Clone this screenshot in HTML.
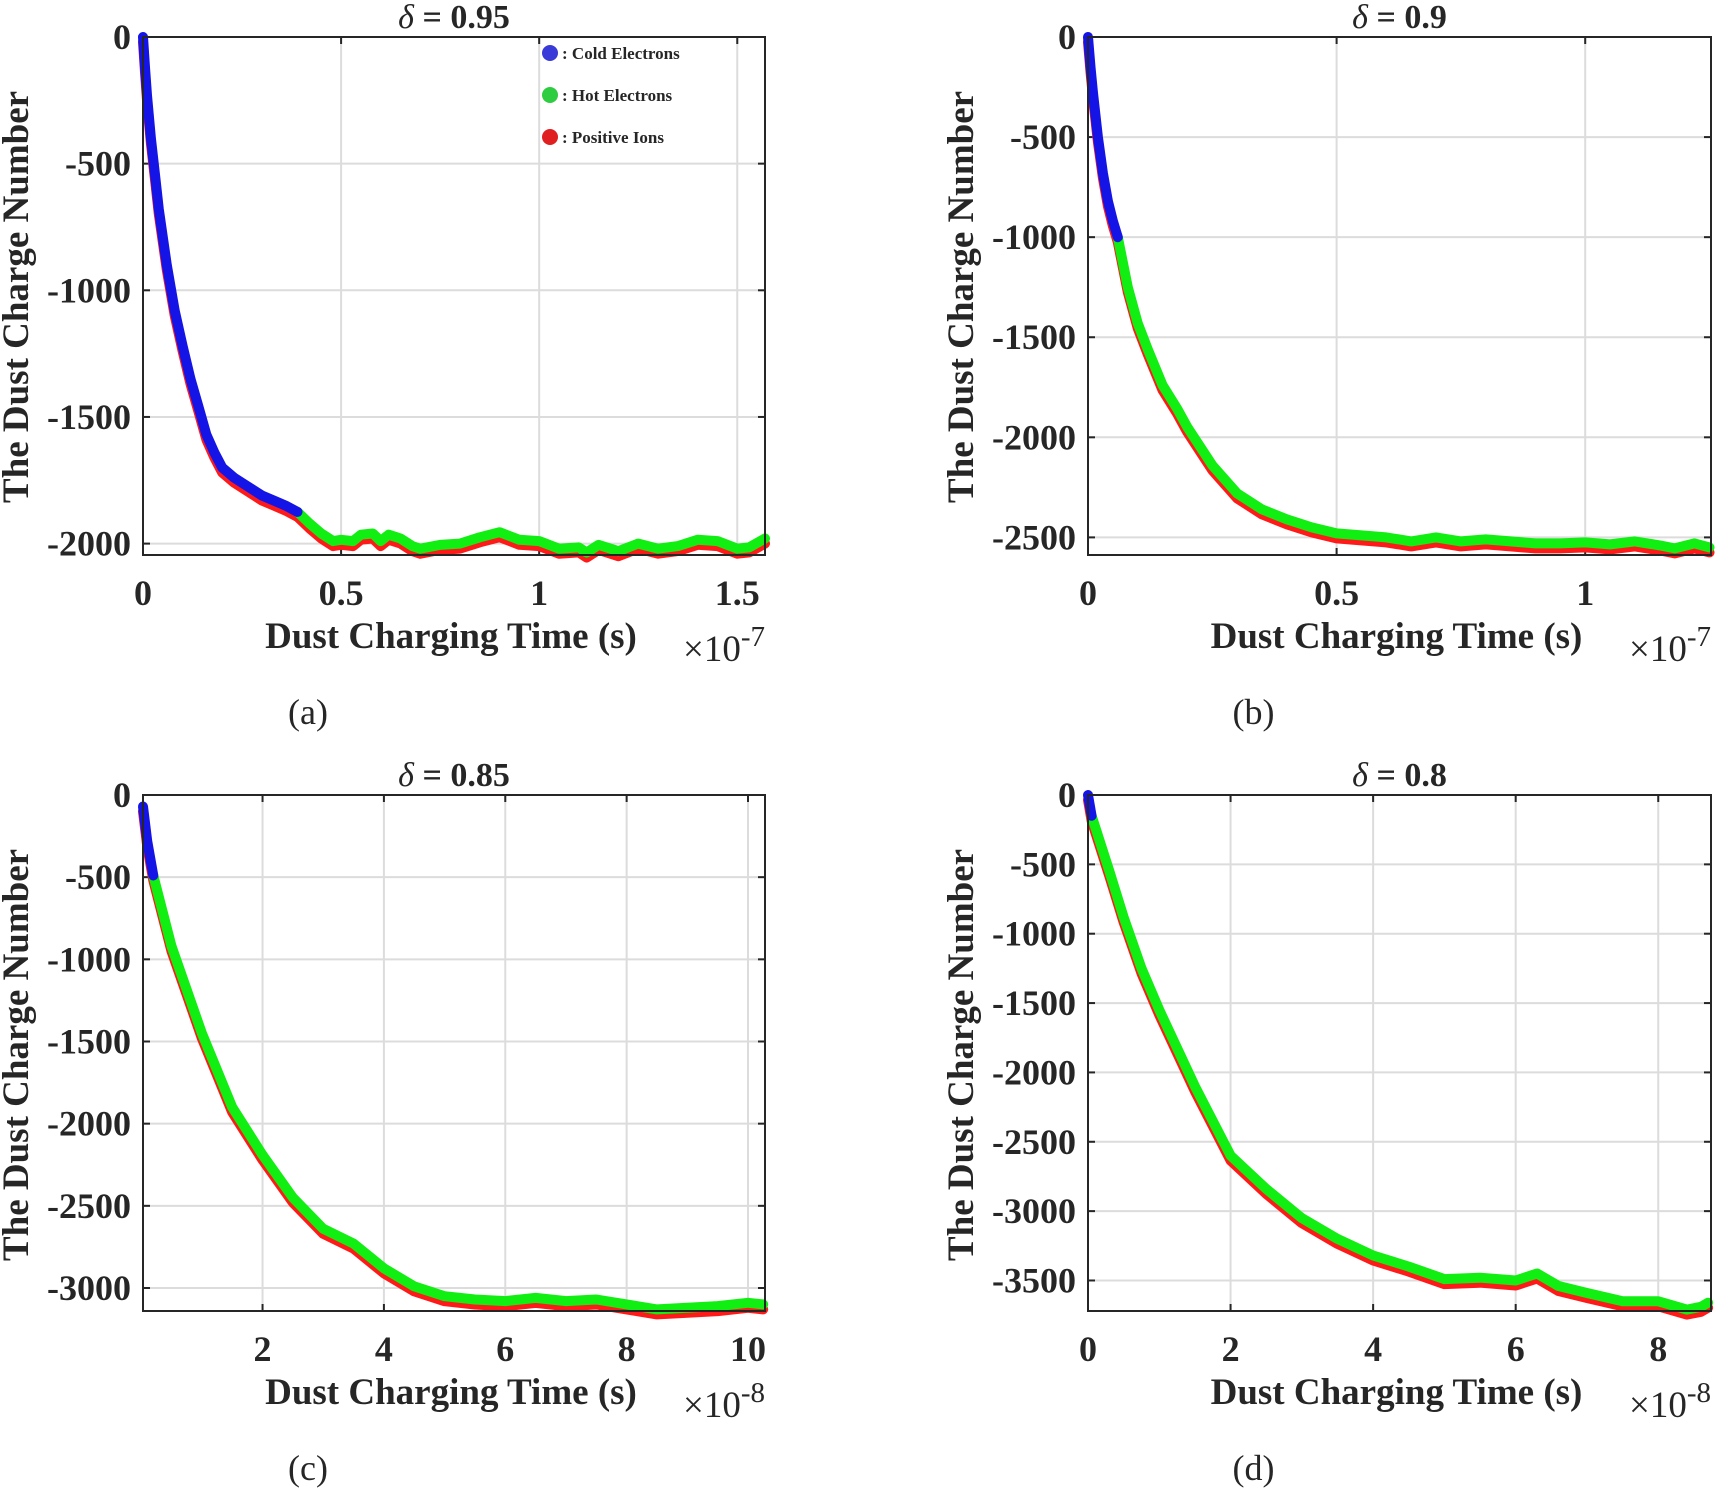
<!DOCTYPE html>
<html><head><meta charset="utf-8">
<style>
html,body{margin:0;padding:0;background:#fff;}
svg{display:block;}
text{font-family:"Liberation Serif",serif;fill:#262626;}
</style></head>
<body>
<svg id="fig" width="1716" height="1490" viewBox="0 0 1716 1490" xmlns="http://www.w3.org/2000/svg"></svg>
<script>
// ---- Panel (a) delta=0.95 (x in 1e-7 s)
const aColdX=[0,0.005,0.01,0.02,0.03,0.04,0.06,0.08,0.1,0.12,0.14,0.16,0.18,0.2,0.23,0.26,0.3,0.33,0.36,0.39];
const aColdY=[0,-120,-230,-400,-540,-680,-900,-1080,-1220,-1350,-1460,-1570,-1640,-1700,-1740,-1770,-1810,-1830,-1850,-1875];
const aHotX=[0.39,0.42,0.45,0.48,0.5,0.53,0.55,0.58,0.6,0.62,0.65,0.68,0.7,0.75,0.8,0.85,0.9,0.95,1.0,1.05,1.1,1.12,1.15,1.2,1.25,1.3,1.35,1.4,1.45,1.5,1.53,1.57];
const aHotY=[-1875,-1920,-1960,-1990,-1985,-1990,-1965,-1960,-1990,-1965,-1980,-2010,-2020,-2005,-2000,-1975,-1955,-1985,-1990,-2020,-2015,-2035,-2005,-2030,-2000,-2020,-2010,-1985,-1990,-2020,-2015,-1980];
// ---- Panel (b) delta=0.9
const bColdX=[0,0.005,0.01,0.02,0.03,0.04,0.05,0.06];
const bColdY=[0,-150,-280,-500,-680,-820,-920,-1000];
const bHotX=[0.06,0.08,0.1,0.12,0.15,0.18,0.2,0.25,0.3,0.35,0.4,0.45,0.5,0.55,0.6,0.65,0.7,0.75,0.8,0.85,0.9,0.95,1.0,1.05,1.1,1.15,1.18,1.22,1.25];
const bHotY=[-1000,-1250,-1430,-1560,-1740,-1860,-1950,-2140,-2280,-2360,-2410,-2450,-2480,-2490,-2500,-2520,-2500,-2520,-2510,-2520,-2530,-2530,-2525,-2535,-2520,-2540,-2555,-2530,-2550];
// ---- Panel (c) delta=0.85 (x in 1e-8 s)
const cColdX=[0.03,0.1,0.2];
const cColdY=[-70,-280,-490];
const cHotX=[0.2,0.5,1,1.5,2,2.5,3,3.5,4,4.5,5,5.5,6,6.5,7,7.5,8,8.5,9,9.5,10,10.25];
const cHotY=[-490,-920,-1450,-1900,-2190,-2450,-2640,-2730,-2880,-2990,-3050,-3070,-3080,-3060,-3080,-3070,-3100,-3130,-3120,-3110,-3090,-3100];
// ---- Panel (d) delta=0.8
const dColdX=[0,0.05];
const dColdY=[0,-150];
const dHotX=[0.05,0.3,0.5,0.75,1,1.5,2,2.5,3,3.5,4,4.5,5,5.5,6,6.3,6.6,7,7.5,8,8.4,8.6,8.7];
const dHotY=[-150,-550,-880,-1250,-1550,-2100,-2600,-2840,-3050,-3200,-3320,-3400,-3490,-3480,-3500,-3450,-3540,-3590,-3650,-3650,-3710,-3690,-3660];

const aXTicks=[0,0.5,1,1.5], aXLabels=["0","0.5","1","1.5"];
const aYTicks=[0,-500,-1000,-1500,-2000];
const bXTicks=[0,0.5,1], bXLabels=["0","0.5","1"];
const bYTicks=[0,-500,-1000,-1500,-2000,-2500];
const cXTicks=[2,4,6,8,10], cXLabels=["2","4","6","8","10"];
const cYTicks=[0,-500,-1000,-1500,-2000,-2500,-3000];
const dXTicks=[0,2,4,6,8], dXLabels=["0","2","4","6","8"];
const dYTicks=[0,-500,-1000,-1500,-2000,-2500,-3000,-3500];

const NS="http://www.w3.org/2000/svg";
const svg=document.getElementById('fig');
function mk(tag,attrs,parent){const e=document.createElementNS(NS,tag);for(const k in attrs)e.setAttribute(k,attrs[k]);(parent||svg).appendChild(e);return e;}

const panels=[
 {id:'a',L:143,R:765,T:37,B:555,xmin:0,xmax:1.57,ymin:-2045,ymax:0,xt:aXTicks,xl:aXLabels,yt:aYTicks,title:"0.95",exp:"-7",cx:aColdX,cy:aColdY,hx:aHotX,hy:aHotY,legend:true},
 {id:'b',L:1088,R:1711,T:37,B:555,xmin:0,xmax:1.253,ymin:-2588,ymax:0,xt:bXTicks,xl:bXLabels,yt:bYTicks,title:"0.9",exp:"-7",cx:bColdX,cy:bColdY,hx:bHotX,hy:bHotY},
 {id:'c',L:143,R:765,T:795,B:1311,xmin:0.03,xmax:10.28,ymin:-3140,ymax:0,xt:cXTicks,xl:cXLabels,yt:cYTicks,title:"0.85",exp:"-8",cx:cColdX,cy:cColdY,hx:cHotX,hy:cHotY},
 {id:'d',L:1088,R:1711,T:795,B:1311,xmin:0,xmax:8.74,ymin:-3720,ymax:0,xt:dXTicks,xl:dXLabels,yt:dYTicks,title:"0.8",exp:"-8",cx:dColdX,cy:dColdY,hx:dHotX,hy:dHotY}
];

panels.forEach(p=>{
  const g=mk('g',{});
  
  
  const X=v=>p.L+(v-p.xmin)/(p.xmax-p.xmin)*(p.R-p.L);
  const Y=v=>p.T+(p.ymax-v)/(p.ymax-p.ymin)*(p.B-p.T);
  p.xt.forEach((t,i)=>{
    const ln=mk('line',{x1:X(t),x2:X(t),y1:p.T,y2:p.B,stroke:'#dcdcdc','stroke-width':2},g);
    
    
    mk('line',{x1:X(t),x2:X(t),y1:p.B,y2:p.B-7,stroke:'#262626','stroke-width':2},g);
    mk('line',{x1:X(t),x2:X(t),y1:p.T,y2:p.T+7,stroke:'#262626','stroke-width':2},g);
    const tx=mk('text',{x:X(t),y:p.B+50,'font-size':36,'font-weight':'bold','text-anchor':'middle'},g);
    tx.textContent=p.xl[i];
    
    
  });
  p.yt.forEach(t=>{
    const ln=mk('line',{x1:p.L,x2:p.R,y1:Y(t),y2:Y(t),stroke:'#dcdcdc','stroke-width':2},g);
    
    
    mk('line',{x1:p.L,x2:p.L+7,y1:Y(t),y2:Y(t),stroke:'#262626','stroke-width':2},g);
    mk('line',{x1:p.R,x2:p.R-7,y1:Y(t),y2:Y(t),stroke:'#262626','stroke-width':2},g);
    const tx=mk('text',{x:p.L-12,y:Y(t)+12,'font-size':36,'font-weight':'bold','text-anchor':'end'},g);
    tx.textContent=String(t);
    
    
  });
  const pts=(xs,ys,dy)=>xs.map((v,i)=>X(v).toFixed(1)+','+(Y(ys[i])+dy).toFixed(1)).join(' ');
  const red=mk('polyline',{points:pts(p.cx.concat(p.hx),p.cy.concat(p.hy),5),fill:'none',stroke:'#ff1a1a','stroke-width':10,'stroke-linejoin':'round','stroke-linecap':'round'},g);
  
  
  const hot=mk('polyline',{points:pts(p.hx,p.hy,0),fill:'none',stroke:'#11ee11','stroke-width':10,'stroke-linejoin':'round','stroke-linecap':'round'},g);
  
  
  const cold=mk('polyline',{points:pts(p.cx,p.cy,0),fill:'none',stroke:'#1414e6','stroke-width':10,'stroke-linejoin':'round','stroke-linecap':'round'},g);
  
  
  const box=mk('rect',{x:p.L,y:p.T,width:p.R-p.L,height:p.B-p.T,fill:'none',stroke:'#262626','stroke-width':2},g);
  
  
  const cxm=(p.L+p.R)/2;
  const ti=mk('text',{x:cxm,y:p.T-9,'font-size':34,'font-weight':'bold','text-anchor':'middle'},g);
  ti.innerHTML='<tspan font-style="italic" font-weight="normal">δ</tspan> = '+p.title;
  
  
  const xl=mk('text',{x:cxm-3,y:p.B+93,'font-size':37,'font-weight':'bold','text-anchor':'middle'},g);
  xl.textContent='Dust Charging Time (s)';
  
  
  const ex=mk('text',{x:p.R,y:p.B+106,'font-size':37,'text-anchor':'end'},g);
  ex.innerHTML='×10<tspan dy="-15" font-size="29">'+p.exp+'</tspan>';
  
  
  const yl=mk('text',{x:0,y:0,'font-size':37,'font-weight':'bold','text-anchor':'middle',transform:'translate('+(p.L-115)+','+(p.T+260)+') rotate(-90)'},g);
  yl.textContent='The Dust Charge Number';
  
  
  const pl=mk('text',{x:(p.L+p.R)/2-146,y:p.B+169,'font-size':36,'text-anchor':'middle'},g);
  pl.textContent='('+p.id+')';
  
  
  if(p.legend){
    const items=[['#3a3ad8',': Cold Electrons'],['#2ecc40',': Hot Electrons'],['#e02020',': Positive Ions']];
    items.forEach((it,i)=>{
      const y=53+i*42;
      const c=mk('circle',{cx:550,cy:y,r:8,fill:it[0]},g);
      
      
      const t=mk('text',{x:562,y:y+6,'font-size':17,'font-weight':'bold'},g);
      t.textContent=it[1];
      
      
    });
  }
});
</script>
</body></html>
